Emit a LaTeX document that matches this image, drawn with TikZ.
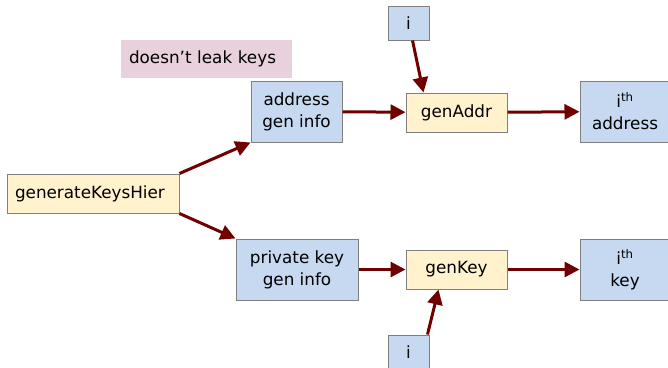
\documentclass[tikz,border=0pt]{standalone}
\usepackage{fontspec}
\setmainfont{DejaVu Sans}
\usetikzlibrary{arrows.meta}

\definecolor{boxblue}{RGB}{198,217,241}
\definecolor{boxyellow}{RGB}{255,242,204}
\definecolor{boxpink}{RGB}{232,208,220}
\definecolor{boxedge}{RGB}{127,127,127}
\definecolor{arrowred}{RGB}{112,0,0}

\tikzset{every picture/.style={line width=0.75pt}}
\tikzset{
  databox/.style={draw=boxedge,fill=boxblue,line width=1pt,align=center,inner sep=0pt,font=\fontsize{16.8}{22}\selectfont},
  funcbox/.style={draw=boxedge,fill=boxyellow,line width=1pt,align=center,inner sep=0pt,font=\fontsize{16.8}{22}\selectfont},
  notebox/.style={fill=boxpink,align=left,inner ysep=0pt,inner xsep=8pt,font=\fontsize{16.8}{22}\selectfont},
  flow/.style={draw=arrowred,line width=3pt,-{Triangle[length=15pt,width=15pt]}},
}

\begin{document}
\begin{tikzpicture}[x=1pt,y=1pt,yscale=-1,xscale=1]
\useasboundingbox (0,0) rectangle (668,367);
\clip (0,0) rectangle (668,367);

% Text Node
\node [notebox,text width=155pt,minimum height=38pt] (leak) at (206.5,59) {doesn’t leak keys};
% Shape: generator
\node [funcbox,align=left,inner xsep=8pt,text width=156pt,minimum height=39pt] (gkh) at (93,193.5) {generateKeysHier};
% Shape: address branch
\node [databox,minimum width=91pt,minimum height=61pt] (addrinfo) at (296.5,111.5) {address\\gen info};
\node [databox,minimum width=41pt,minimum height=34pt] (itop) at (408.5,23) {i};
\node [funcbox,minimum width=101pt,minimum height=39pt] (genaddr) at (456.5,112.5) {genAddr};
\node [databox,minimum width=90pt,minimum height=61pt] (ithaddr) at (625,111.5) {i\textsuperscript{th}\\address};
% Shape: key branch
\node [databox,minimum width=122pt,minimum height=61pt] (pkinfo) at (297,269.5) {private key\\gen info};
\node [funcbox,minimum width=101pt,minimum height=39pt] (genkey) at (456.5,269.5) {genKey};
\node [databox,minimum width=90pt,minimum height=61pt] (ithkey) at (625,269.5) {i\textsuperscript{th}\\key};
\node [databox,minimum width=41pt,minimum height=34pt] (ibot) at (408.5,352) {i};

% Arrows
\draw [flow] (gkh.north east) -- (addrinfo.south west);
\draw [flow] (gkh.south east) -- (pkinfo.north west);
\draw [flow] (addrinfo) -- (genaddr);
\draw [flow] (genaddr) -- (ithaddr);
\draw [flow] ([xshift=4pt]itop.south) -- ([xshift=-33pt]genaddr.north);
\draw [flow] (pkinfo) -- (genkey);
\draw [flow] (genkey) -- (ithkey);
\draw [flow] ([xshift=19pt]ibot.north) -- ([xshift=-18pt]genkey.south);

\end{tikzpicture}
\end{document}
